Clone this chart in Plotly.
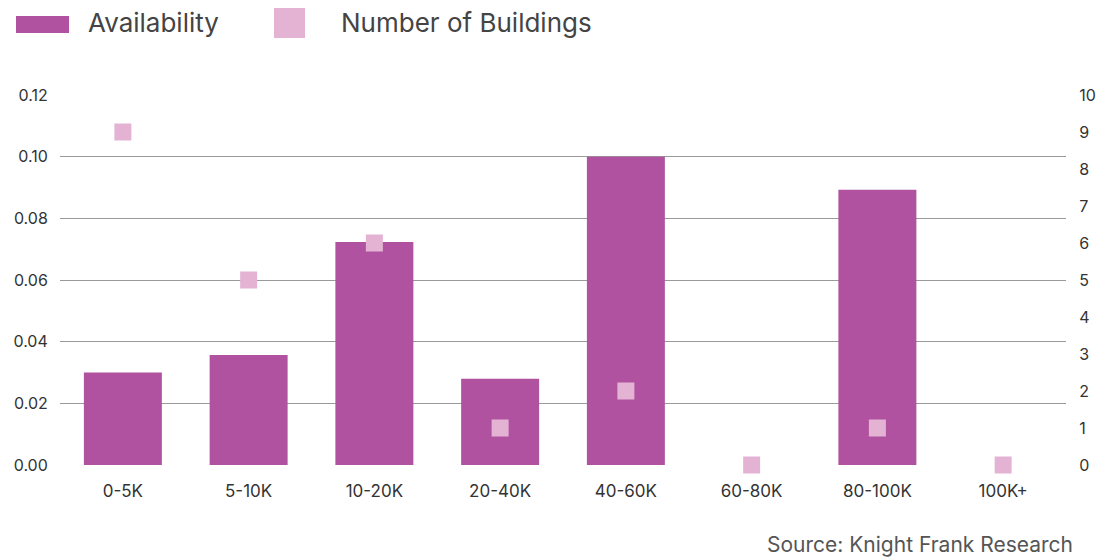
import plotly.graph_objects as go

categories = ["0-5K", "5-10K", "10-20K", "20-40K", "40-60K", "60-80K", "80-100K", "100K+"]
availability = [0.030, 0.0357, 0.0723, 0.028, 0.100, None, 0.0893, None]
buildings = [9, 5, 6, 1, 2, 0, 1, 0]
left_ticks = [0, 0.02, 0.04, 0.06, 0.08, 0.10, 0.12]
right_ticks = list(range(0, 11))

# page body has an 8px margin, so the figure is 8px smaller and offset
OFF = 8
W, H = 1104 - OFF, 558 - OFF
L, T = 60 - OFF, 95 - OFF
PW, PH = 1006, 370
R = W - L - PW
B = H - T - PH

def px(x):
    return (x - OFF - L) / PW

def py(y):
    return (T + PH - (y - OFF)) / PH

BAR = "#b0529f"
MARK = "#e4b3d4"
FONT = "Inter, Roboto, sans-serif"

fig = go.Figure()
fig.add_trace(go.Bar(x=categories, y=availability, name="Availability",
                     marker=dict(color=BAR, line=dict(width=0)), width=0.62,
                     yaxis="y"))
fig.add_trace(go.Scatter(x=categories, y=buildings, name="Number of Buildings",
                         mode="markers", yaxis="y2", cliponaxis=False,
                         marker=dict(symbol="square", size=17, color=MARK,
                                     line=dict(width=0))))

fig.update_layout(
    width=W, height=H,
    margin=dict(l=L, r=R, t=T, b=B, autoexpand=False),
    paper_bgcolor="white", plot_bgcolor="white",
    showlegend=False,
    font=dict(family=FONT, size=16, color="#333333"),
    xaxis=dict(type="category", automargin=False, showgrid=False, ticks="outside",
               ticklen=11, tickcolor="rgba(0,0,0,0)", showline=False, zeroline=False,
               tickfont=dict(size=17, color="#333333")),
    yaxis=dict(range=[0, 0.12], tickvals=left_ticks, tickformat=".2f", automargin=False,
               showgrid=True, gridcolor="#9a9a9a", gridwidth=1,
               zeroline=False, showline=False, ticks="outside", ticklen=8,
               tickcolor="rgba(0,0,0,0)", tickfont=dict(size=16, color="#333333")),
    yaxis2=dict(range=[0, 10], tickvals=right_ticks, overlaying="y", side="right",
                automargin=False, showgrid=False, zeroline=False, showline=False,
                ticks="outside", ticklen=9, tickcolor="rgba(0,0,0,0)",
                tickfont=dict(size=16, color="#333333")),
)

# legend drawn at the top
fig.add_shape(type="rect", xref="paper", yref="paper",
              x0=px(16), x1=px(69), y0=py(33), y1=py(16),
              fillcolor=BAR, line=dict(width=0))
fig.add_shape(type="rect", xref="paper", yref="paper",
              x0=px(274), x1=px(305), y0=py(38), y1=py(6),
              fillcolor=MARK, line=dict(width=0))
fig.add_annotation(text="Availability", xref="paper", yref="paper",
                   x=px(86), y=py(22), xanchor="left", yanchor="middle",
                   showarrow=False, font=dict(size=26, color="#444444", family=FONT))
fig.add_annotation(text="Number of Buildings", xref="paper", yref="paper",
                   x=px(339), y=py(22), xanchor="left", yanchor="middle",
                   showarrow=False, font=dict(size=26, color="#444444", family=FONT))
fig.add_annotation(text="Source: Knight Frank Research", xref="paper", yref="paper",
                   x=px(1075), y=py(544), xanchor="right", yanchor="middle",
                   showarrow=False, font=dict(size=21, color="#555555", family=FONT))

fig.write_html("out.html")
